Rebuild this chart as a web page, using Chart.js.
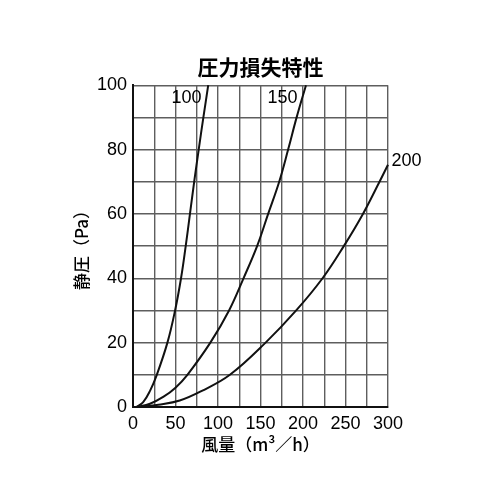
<!DOCTYPE html>
<html>
<head>
<meta charset="utf-8">
<script src="https://cdn.jsdelivr.net/npm/chart.js@4"></script>
<style>
  html, body { margin: 0; padding: 0; background: #fff; }
  #wrap { width: 500px; height: 500px; }
</style>
</head>
<body>
<div id="wrap"><canvas id="chart"></canvas></div>
<script>
const curveNames = ['100', '150', '200'];

// 風量 (m3/h) and 静圧 (Pa)
const flow100 = [4, 12, 20, 28, 40.5, 49.5, 56.5, 62, 67, 72, 77.3, 82.8, 88.5];
const pres100 = [0, 1.5, 5, 10, 20, 30, 40, 50, 60, 70, 80, 90, 100];

const flow150 = [4, 20, 36, 50, 64, 91, 113, 130, 146, 159, 172, 182.5, 192.5, 203.5];
const pres150 = [0, 1, 3.2, 6, 10, 20, 30, 40, 50, 60, 70, 80, 90, 100];

const flow200 = [6, 30, 55, 81, 114, 156, 192, 223, 248, 270.5, 290, 300];
const pres200 = [0, 0.7, 2, 5, 10, 20, 30, 40, 50, 60, 70, 75.3];

const xTicks = [0, 50, 100, 150, 200, 250, 300];
const yTicks = [0, 20, 40, 60, 80, 100];

const FONT = "'Liberation Sans', Arial, 'Noto Sans CJK JP', sans-serif";
const JP = "'Noto Sans CJK JP', 'Liberation Sans', sans-serif";

function toPoints(xs, ys) {
  return xs.map((x, i) => ({ x, y: ys[i] }));
}

const series = [
  toPoints(flow100, pres100),
  toPoints(flow150, pres150),
  toPoints(flow200, pres200),
];

// where each curve name sits, in data units
const curveTags = [
  { x: 63, y: 96, align: 'center' },
  { x: 176, y: 96, align: 'center' },
  { x: 304, y: 76.5, align: 'left' },
];

const curveLabelPlugin = {
  id: 'curveLabels',
  afterDatasetsDraw(chart) {
    const { ctx, scales } = chart;
    ctx.save();
    ctx.fillStyle = '#000';
    ctx.font = '18px ' + FONT;
    ctx.textBaseline = 'middle';
    curveTags.forEach((t, i) => {
      ctx.textAlign = t.align;
      ctx.fillText(curveNames[i], scales.x.getPixelForValue(t.x), scales.y.getPixelForValue(t.y));
    });
    ctx.restore();
  },
};

new Chart(document.getElementById('chart').getContext('2d'), {
  type: 'scatter',
  data: {
    datasets: series.map((pts, i) => ({
      label: curveNames[i],
      data: pts,
      showLine: true,
      borderColor: '#111',
      borderWidth: 2,
      pointRadius: 0,
      tension: 0.4,
      clip: false,
    })),
  },
  options: {
    responsive: true,
    maintainAspectRatio: false,
    animation: false,
    events: [],
    layout: {
      padding: { left: 0, right: 112, top: 0, bottom: 40 },
    },
    plugins: {
      legend: { display: false },
      tooltip: { enabled: false },
      title: {
        display: true,
        text: '圧力損失特性',
        color: '#000',
        fullSize: false,
        font: { family: JP, size: 21, weight: 'bold' },
        padding: { top: 54, bottom: 6 },
      },
    },
    scales: {
      x: {
        type: 'linear',
        min: 0,
        max: 300,
        border: { color: '#111', width: 2 },
        grid: { color: '#5e5e5e', lineWidth: 1.4, drawTicks: false },
        ticks: {
          stepSize: 25,
          padding: 6,
          color: '#000',
          font: { family: FONT, size: 18 },
          maxRotation: 0,
          autoSkip: false,
          callback: (v) => (xTicks.includes(v) ? String(v) : ''),
        },
        title: {
          display: true,
          text: '風量（m³／h）',
          color: '#000',
          font: { family: JP, size: 17, weight: '500' },
          padding: { top: 0, bottom: 5 },
        },
        afterFit(scale) { scale.height = 53; },
      },
      y: {
        type: 'linear',
        min: 0,
        max: 100,
        border: { color: '#111', width: 2 },
        grid: { color: '#5e5e5e', lineWidth: 1.4, drawTicks: false },
        ticks: {
          stepSize: 10,
          padding: 6,
          color: '#000',
          font: { family: FONT, size: 18 },
          autoSkip: false,
          callback: (v) => (yTicks.includes(v) ? String(v) : ''),
        },
        title: {
          display: true,
          text: '静圧（Pa）',
          color: '#000',
          font: { family: JP, size: 17, weight: '500' },
          padding: { top: 71, bottom: 0 },
        },
        afterFit(scale) { scale.width = 133; },
      },
    },
  },
  plugins: [curveLabelPlugin],
});
</script>
</body>
</html>
